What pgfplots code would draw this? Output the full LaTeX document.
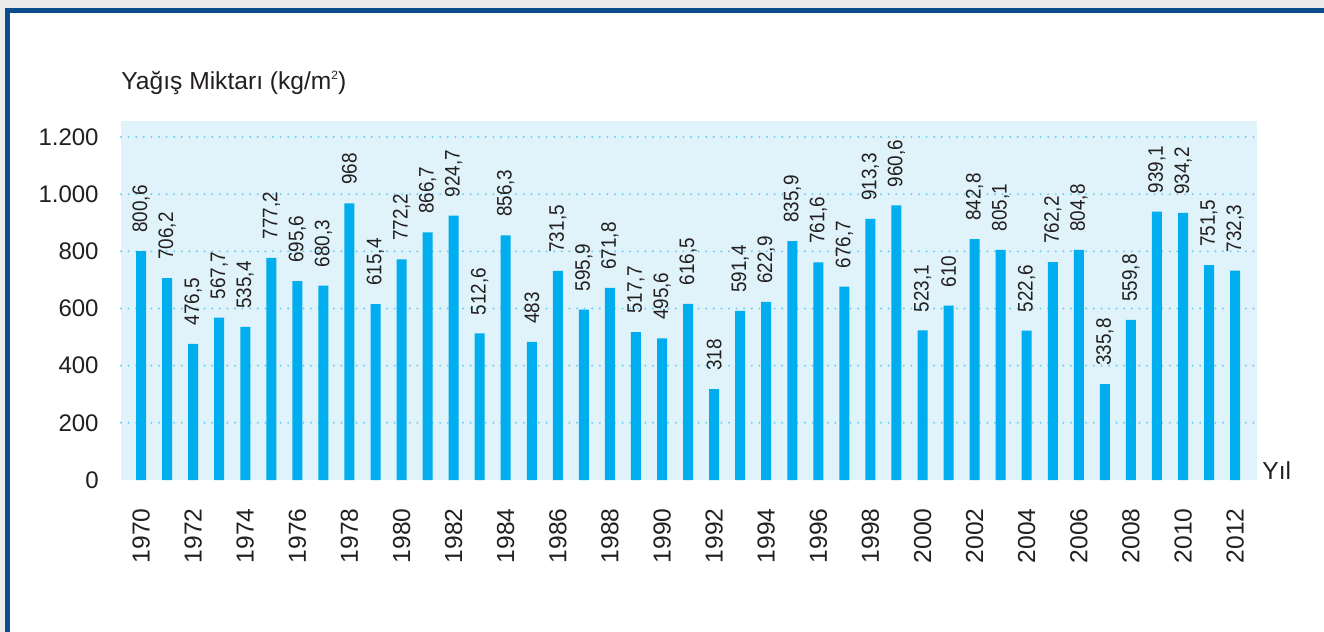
\documentclass[border=0pt]{standalone}
\usepackage{pgfplots}
\pgfplotsset{compat=1.18}
\usepackage{fontspec}
\setmainfont{Liberation Sans}
\newfontfamily\narrowfont[FakeStretch=0.9]{Liberation Sans}
\definecolor{barc}{HTML}{00AEEF}
\definecolor{bgc}{HTML}{E0F3FA}
\definecolor{gridc}{HTML}{6CCEF2}
\definecolor{txt}{HTML}{231F20}
\definecolor{frameb}{HTML}{0B4D8C}
\definecolor{outg}{HTML}{ECECEC}
\begin{document}
\begin{tikzpicture}
\useasboundingbox (0,0) rectangle (662pt,-316pt);
\fill[outg] (0,0) rectangle (662pt,-316pt);
\fill[frameb] (2.5pt,-4pt) rectangle (662pt,-316pt);
\fill[white] (5pt,-6.5pt) rectangle (662pt,-316pt);
\begin{axis}[
  at={(60.5pt,-240pt)}, anchor=south west,
  scale only axis, width=568pt, height=179.5pt,
  xmin=1969.23, xmax=2012.84, ymin=0, ymax=1256,
  axis line style={draw=none},
  axis background/.style={fill=bgc},
  major tick length=0pt,
  ymajorgrids,
  grid style={gridc, line width=1.1pt, dash pattern=on 0pt off 3.8pt, line cap=round},
  ytick={200,400,...,1200},
  extra y ticks={0}, extra y tick style={grid=none},
  yticklabel style={/pgf/number format/1000 sep={.}, /pgf/number format/assume math mode=true, font=\fontsize{12}{12}\selectfont, text=txt, inner sep=0pt, xshift=-11pt},
  xtick={1970,1972,...,2012},
  xticklabels={1970,1972,1974,1976,1978,1980,1982,1984,1986,1988,1990,1992,1994,1996,1998,2000,2002,2004,2006,2008,2010,2012},
  xticklabel style={yshift=-14pt, rotate=90, anchor=east, inner sep=0pt, font=\fontsize{12.3}{12}\selectfont, text=txt},
  ybar, bar width=5pt,
  nodes near coords,
  every node near coord/.append style={/pgf/number format/use comma, /pgf/number format/fixed, /pgf/number format/precision=1, /pgf/number format/1000 sep={}, /pgf/number format/assume math mode=true, rotate=90, anchor=west, inner xsep=9pt, inner ysep=0pt, font=\narrowfont\fontsize{10.5}{10}\selectfont, text=txt},
]
\addplot[fill=barc, draw=none] coordinates {
(1970,800.6) (1971,706.2) (1972,476.5) (1973,567.7) (1974,535.4)
(1975,777.2) (1976,695.6) (1977,680.3) (1978,968) (1979,615.4)
(1980,772.2) (1981,866.7) (1982,924.7) (1983,512.6) (1984,856.3)
(1985,483) (1986,731.5) (1987,595.9) (1988,671.8) (1989,517.7)
(1990,495.6) (1991,616.5) (1992,318) (1993,591.4) (1994,622.9)
(1995,835.9) (1996,761.6) (1997,676.7) (1998,913.3) (1999,960.6)
(2000,523.1) (2001,610) (2002,842.8) (2003,805.1) (2004,522.6)
(2005,762.2) (2006,804.8) (2007,335.8) (2008,559.8) (2009,939.1)
(2010,934.2) (2011,751.5) (2012,732.3)
};
\end{axis}
\node[anchor=base west, inner sep=0pt, text=txt, font=\fontsize{12.3}{12}\selectfont] at (60.5pt,-44.5pt) {Yağış Miktarı (kg/m\raisebox{0.75ex}{\fontsize{6}{6}\selectfont 2})};
\node[anchor=base west, inner sep=0pt, text=txt, font=\fontsize{12.3}{12}\selectfont] at (631pt,-239.5pt) {Yıl};
\end{tikzpicture}
\end{document}
